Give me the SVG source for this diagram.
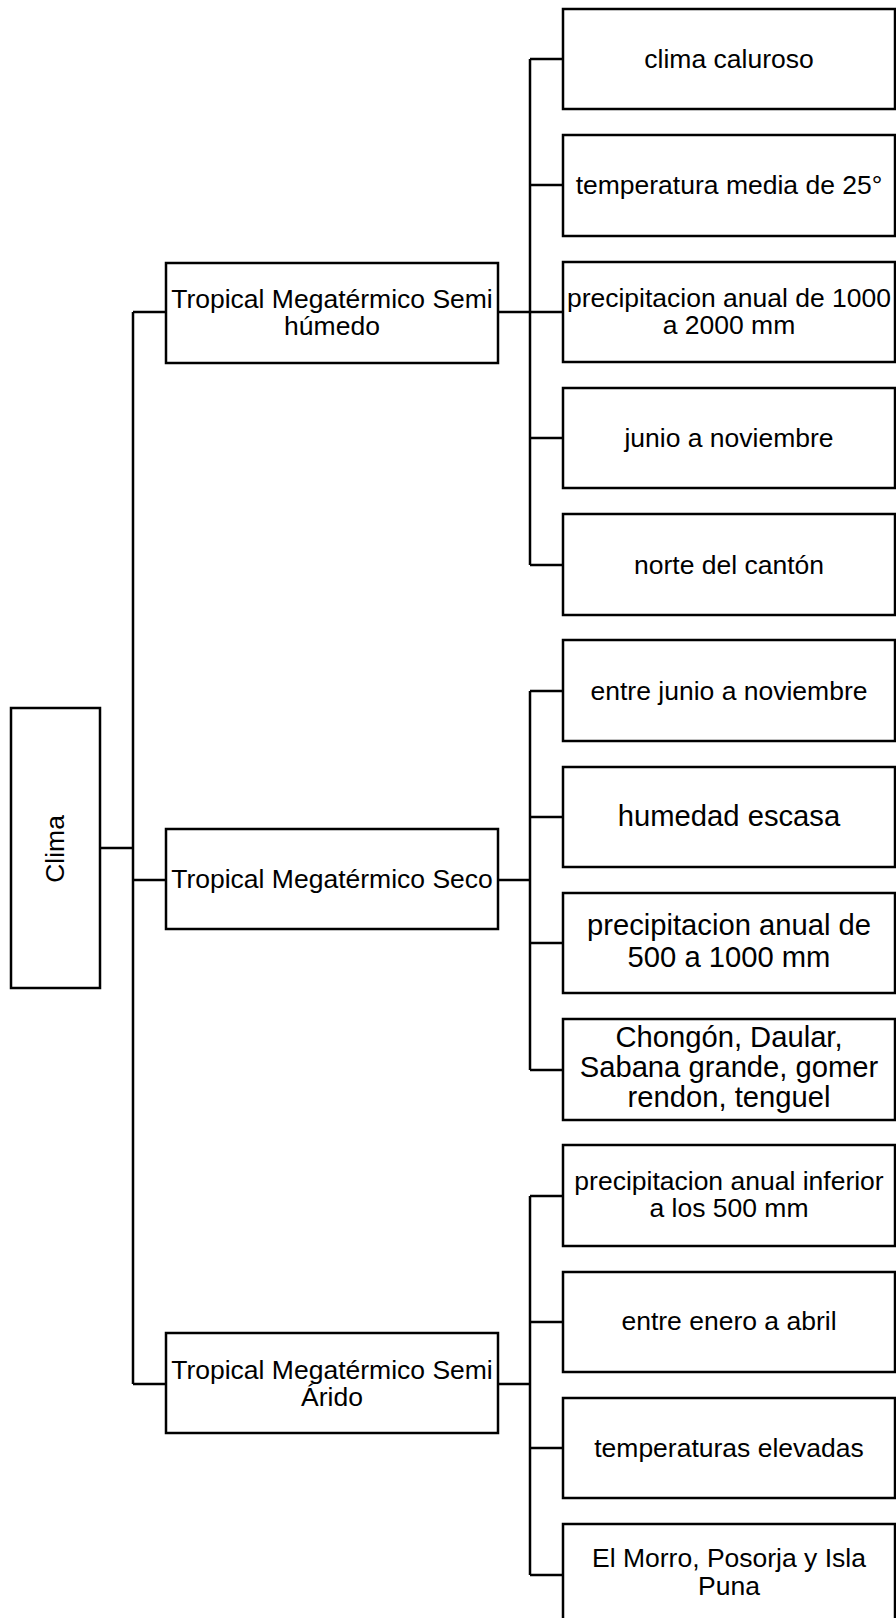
<svg xmlns="http://www.w3.org/2000/svg" width="896" height="1618" viewBox="0 0 896 1618">
<style>
.box{fill:#fff;stroke:#000;stroke-width:2.5}
.ln{fill:none;stroke:#000;stroke-width:2.5}
text{font-family:"Liberation Sans",Arial,sans-serif;font-size:26.5px;fill:#000;text-anchor:middle}
.big{font-size:29.2px}
</style>
<rect width="896" height="1618" fill="#fff"/>
<g id="connectors">
<path class="ln" d="M100 848H133M133 312V1384M133 312H166M133 880H166M133 1384H166"/>
<path class="ln" d="M498 312H530M530 59V565M530 59H563M530 185H563M530 312H563M530 438H563M530 565H563"/>
<path class="ln" d="M498 880H530M530 691V1070M530 691H563M530 817H563M530 943H563M530 1070H563"/>
<path class="ln" d="M498 1384H530M530 1196V1575M530 1196H563M530 1322H563M530 1448H563M530 1575H563"/>
</g>
<g id="clima"><rect class="box" x="11" y="708" width="89" height="280"/><text transform="translate(64 849) rotate(-90)" font-size="28">Clima</text></g>
<g id="semihumedo"><rect class="box" x="166" y="263" width="332" height="100"/><text x="332" y="308">Tropical Megatérmico Semi</text><text x="332" y="335">húmedo</text></g>
<g id="seco"><rect class="box" x="166" y="829" width="332" height="100"/><text x="332" y="888">Tropical Megatérmico Seco</text></g>
<g id="semiarido"><rect class="box" x="166" y="1333" width="332" height="100"/><text x="332" y="1379">Tropical Megatérmico Semi</text><text x="332" y="1406">Árido</text></g>
<g id="n1"><rect class="box" x="563" y="9" width="332" height="100"/><text x="729" y="68">clima caluroso</text></g>
<g id="n2"><rect class="box" x="563" y="135" width="332" height="101"/><text x="729" y="194">temperatura media de 25°</text></g>
<g id="n3"><rect class="box" x="563" y="262" width="332" height="100"/><text x="729" y="307">precipitacion anual de 1000</text><text x="729" y="334">a 2000 mm</text></g>
<g id="n4"><rect class="box" x="563" y="388" width="332" height="100"/><text x="729" y="447">junio a noviembre</text></g>
<g id="n5"><rect class="box" x="563" y="514" width="332" height="101"/><text x="729" y="574">norte del cantón</text></g>
<g id="n6"><rect class="box" x="563" y="640" width="332" height="101"/><text x="729" y="700">entre junio a noviembre</text></g>
<g id="n7"><rect class="box" x="563" y="767" width="332" height="100"/><text class="big" x="729" y="826">humedad escasa</text></g>
<g id="n8"><rect class="box" x="563" y="893" width="332" height="100"/><text class="big" x="729" y="935">precipitacion anual de</text><text class="big" x="729" y="967">500 a 1000 mm</text></g>
<g id="n9"><rect class="box" x="563" y="1019" width="332" height="101"/><text class="big" x="729" y="1047">Chongón, Daular,</text><text class="big" x="729" y="1077">Sabana grande, gomer</text><text class="big" x="729" y="1107">rendon, tenguel</text></g>
<g id="n10"><rect class="box" x="563" y="1145" width="332" height="101"/><text x="729" y="1190">precipitacion anual inferior</text><text x="729" y="1217">a los 500 mm</text></g>
<g id="n11"><rect class="box" x="563" y="1272" width="332" height="100"/><text x="729" y="1330">entre enero a abril</text></g>
<g id="n12"><rect class="box" x="563" y="1398" width="332" height="100"/><text x="729" y="1457">temperaturas elevadas</text></g>
<g id="n13"><rect class="box" x="563" y="1524" width="332" height="100"/><text x="729" y="1567">El Morro, Posorja y Isla</text><text x="729" y="1595">Puna</text></g>
</svg>
